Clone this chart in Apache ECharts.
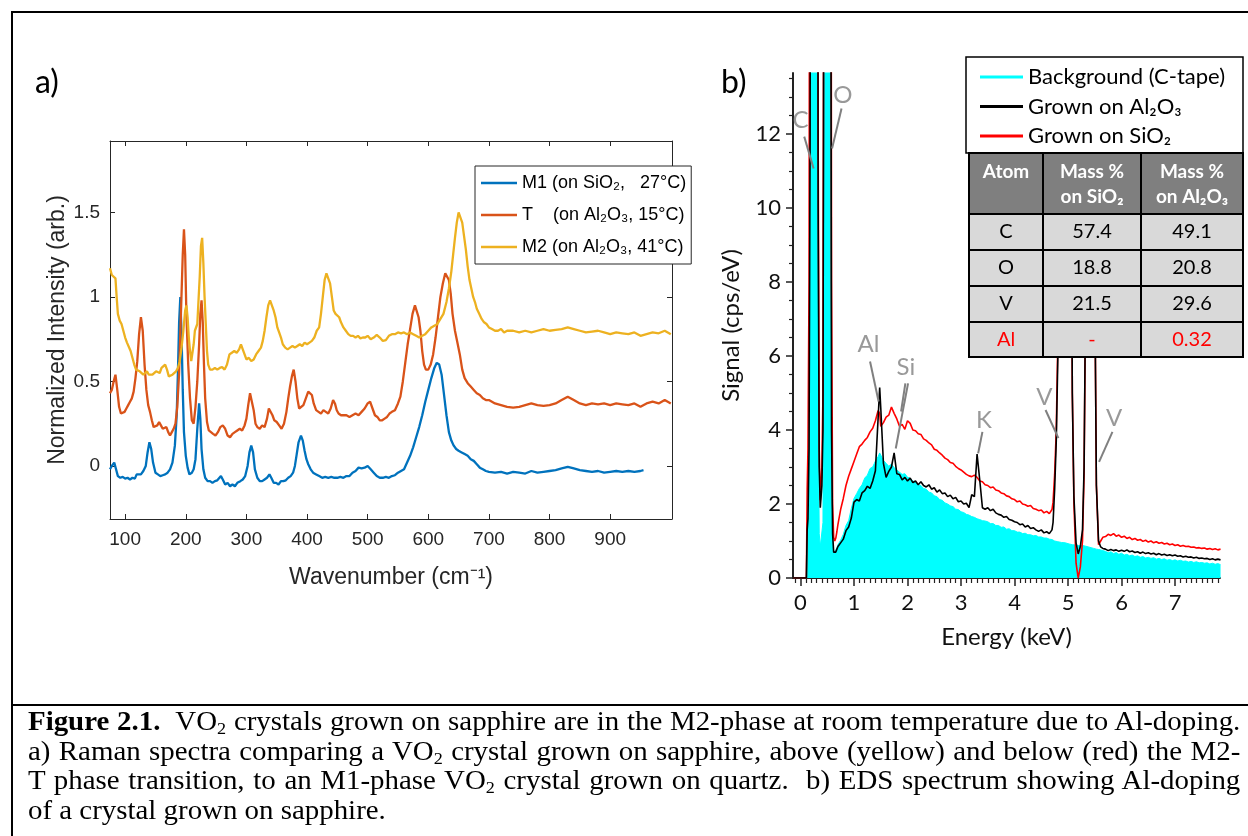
<!DOCTYPE html>
<html>
<head>
<meta charset="utf-8">
<title>Figure 2.1 - VO2 Raman and EDS spectra</title>
<script src="https://cdn.jsdelivr.net/npm/echarts@6/dist/echarts.min.js"></script>
<style>
  *{margin:0;padding:0;}
  body{background:#fff;width:1248px;height:836px;overflow:hidden;position:relative;}
  .frame{position:absolute;left:11px;top:11px;width:1300px;height:900px;border-left:2px solid #000;border-top:2px solid #000;}
  .sep{position:absolute;left:11px;top:704px;width:1300px;height:2px;background:#000;}
  #chart{position:absolute;left:0;top:0;width:1248px;height:836px;}
  .caption{position:absolute;left:28px;top:707px;width:1133px;transform:scaleX(1.07);transform-origin:0 0;
    font-family:'Liberation Serif','Times New Roman',serif;font-size:27px;color:#000;}
  .caption div{height:29.7px;line-height:29.7px;white-space:nowrap;text-align:justify;text-align-last:justify;}
  .caption div.last{text-align:left;text-align-last:left;}
  .caption .s{font-size:17px;position:relative;top:4px;}
</style>
</head>
<body>
<div class="frame"></div>
<div class="sep"></div>
<div id="chart"></div>
<div class="caption">
  <div><b>Figure 2.1.</b>&nbsp; VO<span class="s">2</span> crystals grown on sapphire are in the M2-phase at room temperature due to Al-doping.</div>
  <div>a) Raman spectra comparing a VO<span class="s">2</span> crystal grown on sapphire, above (yellow) and below (red) the M2-</div>
  <div>T phase transition, to an M1-phase VO<span class="s">2</span> crystal grown on quartz.&nbsp; b) EDS spectrum showing Al-doping</div>
  <div class="last">of a crystal grown on sapphire.</div>
</div>
<script>
// ---------- panel a: Raman spectra ----------
var m1Wave = [
  75,78,82,85,88,92,96,100,104,108,
  112,116,119,122,126,130,134,137,140,143,
  146,150,154,158,162,166,170,174,178,182,
  185,187,189,191,193,195,197,200,203,206,
  210,213,216,219,222,224,226,229,232,236,
  240,244,248,252,255,258,261,265,269,273,
  277,281,285,290,294,298,302,305,308,311,
  314,318,322,326,330,334,338,341,345,349,
  353,357,361,365,369,373,377,380,383,386,
  390,393,396,399,402,406,410,415,420,425,
  430,435,440,445,450,455,460,465,470,475,
  480,485,490,495,500,505,510,515,520,525,
  530,535,540,545,550,555,560,565,570,575,
  580,585,590,595,600,605,610,614,618,622,
  626,630,634,638,642,646,650,655,660,665,
  670,675,680,685,690,695,700,710,720,730,
  740,750,760,770,780,790,800,810,820,830,
  840,850,860,870,880,890,900,910,920,930,
  940,950,955
];
var m1Int = [
  -0.02,0.0,0.02,0.01,-0.06,-0.07,-0.065,-0.075,-0.07,-0.08,
  -0.07,-0.075,-0.05,-0.04,-0.05,-0.03,0.0,0.08,0.14,0.1,
  0.02,-0.04,-0.05,-0.06,-0.055,-0.05,-0.04,-0.02,0.02,0.12,
  0.3,0.55,0.85,1.0,0.78,0.45,0.2,0.06,-0.01,-0.05,
  -0.04,-0.02,0.04,0.22,0.37,0.28,0.1,-0.02,-0.07,-0.09,
  -0.09,-0.1,-0.09,-0.085,-0.09,-0.06,-0.08,-0.11,-0.1,-0.12,
  -0.11,-0.12,-0.1,-0.09,-0.08,-0.06,0.0,0.08,0.12,0.08,
  -0.02,-0.07,-0.09,-0.09,-0.08,-0.07,-0.05,-0.07,-0.1,-0.1,
  -0.11,-0.09,-0.09,-0.085,-0.07,-0.06,-0.04,0.0,0.07,0.14,
  0.18,0.15,0.09,0.04,0.01,-0.02,-0.04,-0.05,-0.06,-0.07,
  -0.065,-0.07,-0.065,-0.07,-0.07,-0.065,-0.07,-0.06,-0.06,-0.04,
  -0.03,-0.01,-0.015,-0.01,0.0,-0.02,-0.04,-0.06,-0.07,-0.07,
  -0.065,-0.07,-0.06,-0.055,-0.04,-0.03,-0.02,0.02,0.06,0.11,
  0.17,0.23,0.3,0.38,0.45,0.52,0.58,0.61,0.6,0.54,
  0.42,0.3,0.2,0.15,0.12,0.1,0.09,0.08,0.07,0.06,
  0.04,0.03,0.01,-0.01,-0.02,-0.03,-0.035,-0.04,-0.035,-0.045,
  -0.035,-0.04,-0.045,-0.03,-0.04,-0.035,-0.03,-0.025,-0.015,-0.005,
  -0.015,-0.025,-0.03,-0.035,-0.03,-0.04,-0.035,-0.03,-0.035,-0.03,
  -0.035,-0.03,-0.025
];
var tWave = [
  75,78,81,84,87,90,93,96,99,102,
  105,108,111,114,117,120,123,126,129,132,
  135,138,141,144,147,150,153,156,159,162,
  165,168,171,174,177,180,183,186,189,192,
  195,197,199,201,204,207,210,213,216,219,
  222,224,226,228,230,232,235,238,241,245,
  249,253,257,261,265,269,273,277,281,285,
  289,293,297,300,303,306,309,312,315,318,
  322,326,330,334,337,340,343,346,350,354,
  358,362,366,369,372,375,378,381,384,387,
  390,394,398,402,405,408,411,415,419,423,
  427,431,435,439,443,446,449,452,456,460,
  465,470,475,480,485,490,495,500,504,508,
  512,516,520,524,528,532,536,540,545,550,
  554,558,562,566,570,574,578,581,584,587,
  590,593,596,600,604,608,612,616,620,624,
  628,631,634,637,640,644,648,652,656,660,
  665,670,675,680,685,690,695,700,710,720,
  730,740,750,760,770,780,790,800,810,820,
  830,840,850,860,870,880,890,900,910,920,
  930,940,950,960,970,980,990,1000
];
var tInt = [
  0.43,0.45,0.5,0.54,0.45,0.35,0.31,0.3,0.32,0.34,
  0.36,0.38,0.4,0.44,0.52,0.62,0.78,0.88,0.8,0.6,
  0.45,0.36,0.32,0.27,0.23,0.22,0.24,0.26,0.24,0.22,
  0.21,0.23,0.2,0.18,0.2,0.22,0.25,0.35,0.55,0.9,
  1.25,1.4,1.25,0.9,0.6,0.4,0.27,0.25,0.35,0.5,
  0.72,0.9,0.98,0.85,0.6,0.4,0.26,0.21,0.2,0.19,
  0.18,0.2,0.23,0.24,0.22,0.18,0.17,0.19,0.2,0.21,
  0.22,0.21,0.24,0.28,0.36,0.43,0.42,0.33,0.25,0.23,
  0.22,0.24,0.23,0.28,0.34,0.35,0.3,0.27,0.26,0.24,
  0.22,0.25,0.32,0.4,0.47,0.53,0.57,0.5,0.4,0.34,
  0.33,0.36,0.4,0.44,0.45,0.42,0.37,0.33,0.32,0.31,
  0.33,0.32,0.31,0.34,0.39,0.37,0.33,0.31,0.3,0.3,
  0.3,0.29,0.3,0.31,0.3,0.32,0.34,0.37,0.38,0.34,
  0.3,0.29,0.27,0.27,0.28,0.29,0.31,0.32,0.33,0.37,
  0.41,0.5,0.61,0.72,0.81,0.9,0.95,0.96,0.88,0.8,
  0.68,0.6,0.57,0.57,0.6,0.66,0.76,0.88,1.0,1.08,
  1.14,1.15,1.1,1.02,0.9,0.8,0.73,0.66,0.57,0.52,
  0.49,0.47,0.45,0.43,0.42,0.4,0.39,0.39,0.37,0.36,
  0.35,0.345,0.35,0.36,0.37,0.36,0.355,0.36,0.37,0.39,
  0.41,0.39,0.37,0.36,0.37,0.365,0.37,0.36,0.37,0.365,
  0.36,0.37,0.35,0.37,0.38,0.37,0.39,0.37
];
var m2Wave = [
  75,78,81,84,86,88,91,94,97,100,
  103,106,109,112,115,118,121,124,127,130,
  133,136,139,142,145,148,151,154,157,160,
  163,166,169,172,175,178,181,184,187,190,
  193,196,199,201,203,205,207,209,211,213,
  215,217,219,221,223,225,227,229,231,233,
  235,237,240,244,248,252,256,260,264,268,
  272,276,280,284,288,291,294,297,300,304,
  308,312,316,320,324,327,330,333,336,339,
  342,345,348,351,354,357,360,364,368,372,
  376,380,384,388,392,396,400,404,408,412,
  416,420,423,426,429,432,435,438,441,444,
  447,450,453,456,460,464,468,472,476,480,
  484,488,492,496,500,505,510,515,520,525,
  530,535,540,545,550,555,560,565,570,575,
  580,585,590,595,600,605,610,615,620,625,
  630,634,638,641,644,647,650,653,656,659,
  662,665,668,671,674,677,680,684,688,692,
  696,700,705,710,715,720,725,730,740,750,
  760,770,780,790,800,810,820,830,840,850,
  860,870,880,890,900,910,920,930,940,950,
  960,970,980,990,1000
];
var m2Int = [
  1.17,1.13,1.12,1.11,1.0,0.9,0.86,0.84,0.8,0.76,
  0.73,0.72,0.68,0.64,0.6,0.57,0.58,0.56,0.55,0.54,
  0.55,0.56,0.54,0.53,0.54,0.55,0.56,0.57,0.55,0.58,
  0.59,0.6,0.57,0.53,0.53,0.54,0.55,0.56,0.58,0.62,
  0.7,0.8,0.92,0.95,0.88,0.76,0.68,0.62,0.63,0.72,
  0.8,0.79,0.84,0.98,1.12,1.3,1.35,1.2,1.0,0.84,
  0.68,0.6,0.57,0.57,0.58,0.57,0.58,0.585,0.57,0.6,
  0.66,0.67,0.68,0.67,0.69,0.72,0.73,0.66,0.63,0.64,
  0.62,0.63,0.66,0.68,0.7,0.74,0.8,0.88,0.95,0.98,
  0.97,0.92,0.88,0.82,0.79,0.76,0.72,0.7,0.69,0.7,
  0.71,0.7,0.71,0.72,0.71,0.73,0.72,0.73,0.74,0.76,
  0.8,0.82,0.9,1.0,1.1,1.14,1.13,1.08,1.0,0.92,
  0.9,0.91,0.88,0.85,0.82,0.8,0.78,0.77,0.77,0.76,
  0.77,0.755,0.76,0.76,0.77,0.75,0.76,0.775,0.76,0.74,
  0.745,0.77,0.78,0.78,0.79,0.785,0.79,0.78,0.79,0.78,
  0.77,0.76,0.77,0.78,0.8,0.82,0.83,0.84,0.87,0.9,
  0.97,1.05,1.15,1.25,1.35,1.44,1.5,1.49,1.44,1.36,
  1.28,1.18,1.1,1.05,1.0,0.97,0.93,0.9,0.87,0.85,
  0.84,0.82,0.81,0.8,0.8,0.81,0.79,0.8,0.8,0.79,
  0.8,0.79,0.8,0.81,0.8,0.805,0.81,0.82,0.81,0.8,
  0.79,0.795,0.8,0.79,0.78,0.79,0.785,0.78,0.79,0.77,
  0.78,0.79,0.785,0.8,0.78
];
var ramanNames = ['M1 (on SiO\u2082,   27\u00b0C)', 'T    (on Al\u2082O\u2083, 15\u00b0C)', 'M2 (on Al\u2082O\u2083, 41\u00b0C)'];
var ramanColors = ['#0072BD', '#D95319', '#EDB120'];
var ramanXTicks = [100, 200, 300, 400, 500, 600, 700, 800, 900];
var ramanYTicks = [0, 0.5, 1, 1.5];

// ---------- panel b: EDS spectra ----------
var energy = [
  -0.14,0.11,0.125,0.14,0.16,0.18,0.20,0.22,0.26,0.30,0.33,0.35,0.37,0.40,0.42,0.43,0.45,0.52,0.55,0.565,0.58,0.60,0.62,0.64,0.66,0.68,
  0.70,0.75,0.80,0.85,0.90,0.95,
  1.00,1.05,1.10,1.15,1.20,1.25,1.30,1.35,1.40,1.45,1.48,
  1.50,1.55,1.60,1.65,1.70,1.75,1.80,1.85,1.90,1.95,
  2.00,2.05,2.10,2.15,2.20,2.25,2.30,2.35,2.40,2.45,
  2.50,2.55,2.60,2.65,2.70,2.75,2.80,2.85,2.90,2.95,
  3.00,3.05,3.10,3.15,3.20,3.25,3.30,3.35,3.40,3.45,
  3.50,3.55,3.60,3.65,3.70,3.75,3.80,3.85,3.90,3.95,
  4.00,4.05,4.10,4.15,4.20,4.25,4.30,4.35,4.40,4.45,
  4.50,4.55,4.60,4.65,4.70,
  4.72,4.75,4.78,4.81,4.84,4.88,4.95,5.02,5.05,5.08,5.11,5.15,5.19,5.23,5.27,5.30,5.33,5.36,5.43,5.48,5.50,5.53,5.57,5.61,5.65,
  5.70,5.75,5.80,5.85,5.90,5.95,6.00,6.05,6.10,6.15,
  6.20,6.25,6.30,6.35,6.40,6.45,6.50,6.55,6.60,6.65,
  6.70,6.75,6.80,6.85,6.90,6.95,7.00,7.05,7.10,7.15,
  7.20,7.25,7.30,7.35,7.40,7.45,7.50,7.55,7.60,7.65,
  7.70,7.75,7.80,7.85
];
var bgSignal = [
  0,0,1.2,1.5,3,9,30,60,80,40,5,1.2,0.85,0.9,1.5,8,40,70,40,10,2,0.9,0.7,0.72,0.76,0.82,
  0.9,1.02,1.18,1.42,1.55,1.88,
  2.15,2.28,2.42,2.52,2.7,2.78,2.96,3.0,3.16,3.28,3.38,
  3.4,3.18,3.1,3.02,3.08,2.98,2.92,2.86,2.8,2.82,
  2.72,2.7,2.62,2.6,2.52,2.5,2.42,2.4,2.32,2.3,
  2.22,2.2,2.12,2.1,2.03,2.0,1.95,1.93,1.86,1.85,
  1.79,1.77,1.72,1.7,1.66,1.64,1.6,1.58,1.55,1.54,
  1.52,1.47,1.47,1.42,1.42,1.37,1.38,1.32,1.33,1.28,
  1.28,1.24,1.24,1.2,1.21,1.17,1.17,1.14,1.15,1.11,
  1.11,1.08,1.08,1.05,1.04,
  1.02,1.0,1.01,0.98,0.99,0.96,0.95,0.92,0.94,0.9,0.91,0.89,0.88,0.87,0.88,0.85,0.86,0.84,0.82,0.8,0.81,0.78,0.77,0.76,0.74,
  0.72,0.68,0.71,0.66,0.69,0.64,0.67,0.62,0.64,0.6,
  0.62,0.58,0.6,0.56,0.58,0.54,0.56,0.53,0.55,0.51,
  0.53,0.5,0.52,0.48,0.5,0.47,0.49,0.46,0.48,0.45,
  0.46,0.43,0.45,0.42,0.44,0.41,0.42,0.4,0.41,0.38,
  0.4,0.37,0.39,0.36
];
var al2o3Signal = [
  0,0,1.3,1.6,3.5,12,40,70,90,50,10,3,1.9,2.5,4,12,50,80,50,20,4,1.2,0.7,0.65,0.7,0.78,
  0.85,0.95,1.05,1.28,1.38,1.62,
  2.05,2.12,2.08,2.3,2.36,2.48,2.42,2.62,2.9,4.3,5.15,
  4.6,3.1,2.72,2.88,3.0,3.38,2.82,2.8,2.65,2.72,
  2.62,2.7,2.58,2.62,2.52,2.6,2.5,2.46,2.52,2.4,
  2.44,2.32,2.38,2.28,2.3,2.2,2.24,2.14,2.18,2.06,
  2.08,2.0,2.02,1.9,2.25,2.2,3.35,2.65,1.9,1.86,
  1.9,1.82,1.86,1.76,1.72,1.7,1.64,1.66,1.58,1.56,
  1.52,1.5,1.44,1.46,1.38,1.42,1.34,1.36,1.3,1.26,
  1.3,1.22,1.25,1.2,1.3,
  1.5,2.4,3.7,6.0,10,40,80,40,15,5,2.2,0.95,0.65,0.85,1.3,3,8,30,40,30,8,2.5,1.0,0.84,0.8,
  0.78,0.74,0.77,0.74,0.76,0.72,0.75,0.72,0.76,0.71,
  0.73,0.69,0.71,0.67,0.7,0.66,0.68,0.65,0.67,0.63,
  0.66,0.62,0.64,0.61,0.63,0.6,0.62,0.59,0.6,0.57,
  0.59,0.56,0.57,0.54,0.56,0.53,0.54,0.52,0.53,0.5,
  0.52,0.49,0.51,0.49
];
var sio2Signal = [
  0,0,2.4,3.5,8,30,60,80,90,60,12,3.5,2.1,3,5,14,50,80,60,30,8,2.0,1.1,1.0,1.08,1.25,
  1.45,1.85,2.15,2.5,2.75,2.95,
  3.15,3.35,3.55,3.62,3.72,3.8,3.95,4.05,4.25,4.52,4.45,
  4.1,4.2,4.35,4.4,4.62,4.45,4.3,4.1,4.15,4.02,
  4.25,4.18,4.0,3.98,3.9,3.88,3.76,3.72,3.65,3.6,
  3.48,3.45,3.38,3.32,3.24,3.2,3.12,3.1,3.02,2.96,
  2.92,2.86,2.8,2.76,2.74,2.78,2.72,2.62,2.6,2.52,
  2.5,2.44,2.46,2.38,2.36,2.3,2.28,2.22,2.2,2.14,
  2.12,2.06,2.08,2.0,1.98,1.94,1.96,1.88,1.86,1.82,
  1.84,1.76,1.8,1.74,1.85,
  2.05,2.8,4.0,6.5,11,40,80,40,15,5,2.0,0.4,0.0,0.3,1.0,2.8,8,30,40,30,8,2.5,0.9,1.0,1.1,
  1.12,1.18,1.15,1.2,1.13,1.16,1.1,1.13,1.07,1.1,
  1.04,1.07,1.02,1.04,0.99,1.02,0.97,1.0,0.95,0.98,
  0.94,0.96,0.92,0.94,0.9,0.92,0.88,0.9,0.86,0.88,
  0.85,0.86,0.83,0.84,0.81,0.82,0.8,0.81,0.78,0.8,
  0.77,0.79,0.76,0.78
];
var edsNames = ['Background (C-tape)', 'Grown on Al\u2082O\u2083', 'Grown on SiO\u2082'];
var edsXTicks = [0, 1, 2, 3, 4, 5, 6, 7];
var edsYTicks = [0, 2, 4, 6, 8, 10, 12];

// peak annotations (label position, pointer lines) in keV / cps/eV
var peakLabels = ['C', 'O', 'Al', 'Si', 'K', 'V', 'V'];
var peakLabelPos = [[0.0, 12.38], [0.79, 13.05], [1.27, 6.32], [1.97, 5.69], [3.43, 4.27], [4.56, 4.89], [5.86, 4.31]];
var peakPointers = [
  [0.07, 11.93, 0.245, 11.07],
  [0.767, 12.69, 0.59, 11.61],
  [1.30, 5.85, 1.46, 4.77],
  [2.01, 5.26, 1.78, 3.5],
  [1.96, 5.26, 1.88, 4.5],
  [3.40, 3.95, 3.32, 3.37],
  [4.58, 4.54, 4.82, 3.78],
  [5.83, 3.95, 5.58, 3.14]
];

// composition table
var tableHeader = [['Atom'], ['Mass %', 'on SiO\u2082'], ['Mass %', 'on Al\u2082O\u2083']];
var tableAtoms = ['C', 'O', 'V', 'Al'];
var massOnSiO2 = ['57.4', '18.8', '21.5', '-'];
var massOnAl2O3 = ['49.1', '20.8', '29.6', '0.32'];

// ---------- build ----------
var lato = 'Lato, "Open Sans", sans-serif';
var arial = '"Liberation Sans", Arial, Helvetica, sans-serif';

function pairs(xs, ys) {
  return xs.map(function (x, i) { return [x, ys[i]]; });
}

var minorE = [];
for (var k = -1; k <= 78; k++) { if (k % 10 !== 0) minorE.push(+(k / 10).toFixed(1)); }
var minorS = [];
for (var k2 = 1; k2 <= 27; k2++) { if (k2 % 4 !== 0) minorS.push(k2 / 2); }

// legend frame of panel b + table, drawn above the spectra
var colX = [969, 1043, 1141, 1243];
var rowY = [153, 214, 250, 286, 322, 357];
var boxEls = [{type: 'rect', z: 60, shape: {x: 966, y: 57, width: 277, height: 96},
  style: {fill: '#fff', stroke: '#000', lineWidth: 1.5}}];
for (var c = 0; c < 3; c++) {
  boxEls.push({type: 'rect', z: 100, shape: {x: colX[c], y: rowY[0], width: colX[c + 1] - colX[c], height: rowY[1] - rowY[0]},
    style: {fill: '#7f7f7f', stroke: '#000', lineWidth: 2}});
  tableHeader[c].forEach(function (t, j) {
    boxEls.push({type: 'text', z: 101, x: (colX[c] + colX[c + 1]) / 2, y: 172 + j * 25,
      style: {text: t, fill: '#fff', fontSize: 19, fontWeight: 'bold', fontFamily: lato, align: 'center', verticalAlign: 'middle'}});
  });
}
for (var r = 0; r < tableAtoms.length; r++) {
  var cells = [tableAtoms[r], massOnSiO2[r], massOnAl2O3[r]];
  for (var c2 = 0; c2 < 3; c2++) {
    boxEls.push({type: 'rect', z: 100, shape: {x: colX[c2], y: rowY[r + 1], width: colX[c2 + 1] - colX[c2], height: rowY[r + 2] - rowY[r + 1]},
      style: {fill: '#d9d9d9', stroke: '#000', lineWidth: 2}});
    boxEls.push({type: 'text', z: 101, x: (colX[c2] + colX[c2 + 1]) / 2, y: (rowY[r + 1] + rowY[r + 2]) / 2,
      style: {text: cells[c2], fill: tableAtoms[r] === 'Al' ? '#ff0000' : '#000', fontSize: 20, fontFamily: lato, align: 'center', verticalAlign: 'middle'}});
  }
}

var axA = {color: '#262626', width: 1};
var chart = echarts.init(document.getElementById('chart'));
var option = {
  animation: false,
  backgroundColor: 'transparent',
  title: [
    {text: 'a)', left: 35, top: 67, padding: 0, textStyle: {fontSize: 32, fontWeight: 'normal', fontFamily: lato, color: '#000'}},
    {text: 'b)', left: 721, top: 67, padding: 0, textStyle: {fontSize: 32, fontWeight: 'normal', fontFamily: lato, color: '#000'}}
  ],
  grid: [
    {left: 110, top: 141, width: 562, height: 378},
    {left: 793, top: 73, width: 427, height: 505}
  ],
  legend: [
    {
      data: ramanNames, orient: 'vertical', left: 475, top: 166,
      padding: [6, 5, 6, 6], itemGap: 10, itemWidth: 36, itemHeight: 2.5, icon: 'rect',
      borderColor: '#262626', borderWidth: 1, backgroundColor: '#fff', selectedMode: false,
      textStyle: {fontFamily: arial, fontSize: 18, color: '#000', lineHeight: 22}
    },
    {
      data: edsNames, orient: 'vertical', left: 966, top: 57, z: 90,
      padding: [9, 10, 9, 14], itemGap: 7.5, itemWidth: 43, itemHeight: 3, icon: 'rect',
      borderWidth: 0, backgroundColor: 'transparent', selectedMode: false,
      textStyle: {fontFamily: lato, fontSize: 22, color: '#000', lineHeight: 21}
    }
  ],
  xAxis: [
    {
      gridIndex: 0, type: 'value', min: 75, max: 1002, position: 'bottom',
      axisLine: {onZero: false, lineStyle: axA}, splitLine: {show: false},
      axisTick: {inside: true, length: 5, customValues: ramanXTicks, lineStyle: axA},
      axisLabel: {customValues: ramanXTicks, color: '#262626', fontSize: 19, fontFamily: arial, margin: 11},
      name: 'Wavenumber (cm\u207B\u00B9)', nameLocation: 'middle', nameGap: 47,
      nameTextStyle: {fontSize: 23, fontFamily: arial, color: '#262626'}
    },
    {
      gridIndex: 0, type: 'value', min: 75, max: 1002, position: 'top',
      axisLine: {onZero: false, lineStyle: axA}, splitLine: {show: false},
      axisTick: {inside: true, length: 5, customValues: ramanXTicks, lineStyle: axA},
      axisLabel: {show: false}
    },
    {
      gridIndex: 1, type: 'value', min: -0.14, max: 7.84, position: 'bottom',
      axisLine: {onZero: false, lineStyle: {color: '#222', width: 2}}, splitLine: {show: false},
      axisTick: {length: 8, customValues: edsXTicks, lineStyle: {color: '#222', width: 1.5}},
      axisLabel: {customValues: edsXTicks, color: '#111', fontSize: 22, fontFamily: lato, margin: 14},
      name: 'Energy (keV)', nameLocation: 'middle', nameGap: 47,
      nameTextStyle: {fontSize: 24, fontFamily: lato, color: '#111'}
    },
    {
      gridIndex: 1, type: 'value', min: -0.14, max: 7.84, position: 'bottom',
      axisLine: {show: false, onZero: false}, splitLine: {show: false},
      axisTick: {length: 5, customValues: minorE, lineStyle: {color: '#222', width: 1.2}},
      axisLabel: {show: false}
    }
  ],
  yAxis: [
    {
      gridIndex: 0, type: 'value', min: -0.314, max: 1.923, position: 'left',
      axisLine: {show: true, onZero: false, lineStyle: axA}, splitLine: {show: false},
      axisTick: {show: true, inside: true, length: 5, customValues: ramanYTicks, lineStyle: axA},
      axisLabel: {customValues: ramanYTicks, color: '#262626', fontSize: 19, fontFamily: arial, margin: 10},
      name: 'Normalized Intensity (arb.)', nameLocation: 'middle', nameGap: 41, nameRotate: 90,
      nameTextStyle: {fontSize: 23, fontFamily: arial, color: '#262626'}
    },
    {
      gridIndex: 0, type: 'value', min: -0.314, max: 1.923, position: 'right',
      axisLine: {show: true, onZero: false, lineStyle: axA}, splitLine: {show: false},
      axisTick: {show: true, inside: true, length: 5, customValues: ramanYTicks, lineStyle: axA},
      axisLabel: {show: false}
    },
    {
      gridIndex: 1, type: 'value', min: 0, max: 13.65, position: 'left',
      axisLine: {show: true, onZero: false, lineStyle: {color: '#222', width: 2}}, splitLine: {show: false},
      axisTick: {show: true, length: 7, customValues: edsYTicks, lineStyle: {color: '#222', width: 1.5}},
      axisLabel: {customValues: edsYTicks, color: '#111', fontSize: 22, fontFamily: lato, margin: 12},
      name: 'Signal (cps/eV)', nameLocation: 'middle', nameGap: 50, nameRotate: 90,
      nameTextStyle: {fontSize: 24, fontFamily: lato, color: '#111'}
    },
    {
      gridIndex: 1, type: 'value', min: 0, max: 13.65, position: 'left',
      axisLine: {show: false, onZero: false}, splitLine: {show: false},
      axisTick: {show: true, length: 4, customValues: minorS, lineStyle: {color: '#222', width: 1.2}},
      axisLabel: {show: false}
    }
  ],
  series: [
    {name: ramanNames[0], type: 'line', xAxisIndex: 0, yAxisIndex: 0, data: pairs(m1Wave, m1Int),
      showSymbol: false, color: ramanColors[0], lineStyle: {width: 2.3}},
    {name: ramanNames[1], type: 'line', xAxisIndex: 0, yAxisIndex: 0, data: pairs(tWave, tInt),
      showSymbol: false, color: ramanColors[1], lineStyle: {width: 2.3}},
    {name: ramanNames[2], type: 'line', xAxisIndex: 0, yAxisIndex: 0, data: pairs(m2Wave, m2Int),
      showSymbol: false, color: ramanColors[2], lineStyle: {width: 2.3}},
    {name: edsNames[0], type: 'line', xAxisIndex: 2, yAxisIndex: 2, data: pairs(energy, bgSignal),
      showSymbol: false, color: '#00ffff', lineStyle: {width: 1}, areaStyle: {color: '#00ffff', opacity: 1}},
    {name: edsNames[2], type: 'line', xAxisIndex: 2, yAxisIndex: 2, data: pairs(energy, sio2Signal),
      showSymbol: false, color: '#ff0000', lineStyle: {width: 1.6}},
    {name: edsNames[1], type: 'line', xAxisIndex: 2, yAxisIndex: 2, data: pairs(energy, al2o3Signal),
      showSymbol: false, color: '#000000', lineStyle: {width: 1.6}},
    {
      name: 'peaks', type: 'scatter', xAxisIndex: 2, yAxisIndex: 2, symbolSize: 1, z: 5,
      itemStyle: {color: 'rgba(0,0,0,0)'}, silent: true,
      data: peakLabelPos.map(function (p, i) { return {value: p, name: peakLabels[i]}; }),
      label: {show: true, position: 'inside', formatter: '{b}', color: '#808080', fontSize: 24, fontFamily: lato},
      markLine: {
        silent: true, symbol: ['none', 'none'], animation: false,
        lineStyle: {color: '#808080', width: 2, type: 'solid'}, label: {show: false},
        data: peakPointers.map(function (p) { return [{coord: [p[0], p[1]]}, {coord: [p[2], p[3]]}]; })
      }
    }
  ],
  graphic: [{type: 'group', children: boxEls}]
};
chart.setOption(option);
</script>
</body>
</html>
